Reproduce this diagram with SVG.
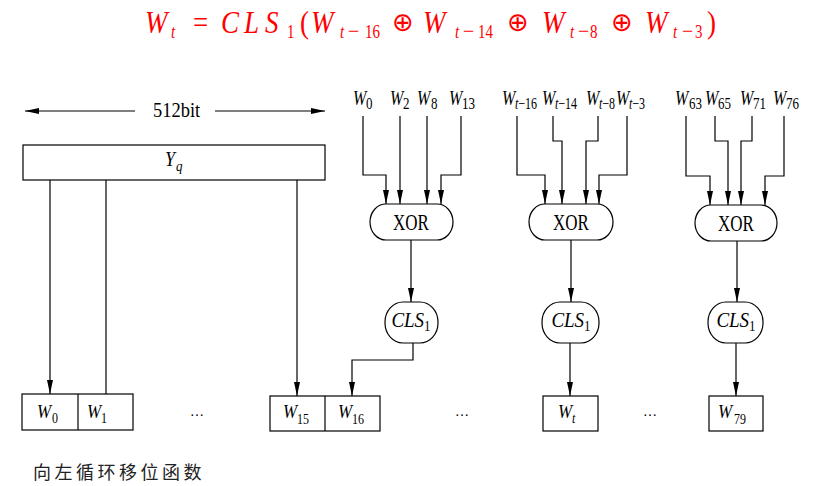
<svg xmlns="http://www.w3.org/2000/svg" width="832" height="486" viewBox="0 0 832 486">
<defs>
<marker id="ah" viewBox="0 0 14 6" refX="14" refY="3" markerWidth="14" markerHeight="6" markerUnits="userSpaceOnUse" orient="auto">
<path d="M0,0 L14,3 L0,6 z" fill="#000"/>
</marker>
<style>
.ln{stroke:#000;stroke-width:1.2;fill:none}
.arr{stroke:#000;stroke-width:1.2;fill:none;marker-end:url(#ah)}
.box{stroke:#000;stroke-width:1.2;fill:#fff}
.t{font-family:"Liberation Serif","Times New Roman",serif;fill:#000}
.it{font-style:italic}
.ttl{font-family:"Liberation Serif","Times New Roman",serif;fill:#f00;font-size:27px}
.mi{font-size:20px}
.op{font-family:"DejaVu Sans",sans-serif;fill:#f00;font-size:26px}
.lab{font-family:"Liberation Serif","Times New Roman",serif;font-size:16px;font-style:italic;fill:#000}
.sub{font-size:13px;font-style:normal}
.subt{font-size:12px;font-style:normal}
.subi{font-size:12px;font-style:italic}
.cn{font-family:"Noto Sans CJK SC",sans-serif;font-size:18px;letter-spacing:3.5px;fill:#222}
</style>
</defs>

<g id="title">
<text class="ttl" transform="translate(0,33) scale(1,1.2)"><tspan class="it" x="145" y="0">W</tspan><tspan class="it" x="171" y="4" font-size="15">t</tspan><tspan x="193" y="0">=</tspan><tspan class="it" x="221" y="0">C</tspan><tspan class="it" x="244" y="0">L</tspan><tspan class="it" x="265" y="0">S</tspan><tspan x="287" y="4" font-size="15">1</tspan><tspan x="300" y="0">(</tspan><tspan class="it" x="311" y="0">W</tspan><tspan class="it" x="340" y="4" font-size="15">t</tspan><tspan class="mi" x="348" y="5">−</tspan><tspan x="365" y="4" font-size="15">16</tspan><tspan class="it" x="423" y="0">W</tspan><tspan class="it" x="455" y="4" font-size="15">t</tspan><tspan class="mi" x="463" y="5">−</tspan><tspan x="478" y="4" font-size="15">14</tspan><tspan class="it" x="542" y="0">W</tspan><tspan class="it" x="570" y="4" font-size="15">t</tspan><tspan class="mi" x="578" y="5">−</tspan><tspan x="590" y="4" font-size="15">8</tspan><tspan class="it" x="645" y="0">W</tspan><tspan class="it" x="673" y="4" font-size="15">t</tspan><tspan class="mi" x="682" y="5">−</tspan><tspan x="695" y="4" font-size="15">3</tspan><tspan x="707" y="0">)</tspan></text>
<text class="op" y="31"><tspan x="392">⊕</tspan><tspan x="507">⊕</tspan><tspan x="611">⊕</tspan></text>
</g>

<g id="width-label">
<text class="t" font-size="18.5" transform="translate(153,117) scale(1,1.12)">512bit</text>
</g>

<g id="connectors">
<path class="arr" d="M135,111 H25"/>
<path class="arr" d="M215,111 H325"/>
<path class="arr" d="M50,180 V394"/>
<path class="ln" d="M106,180 V394"/>
<path class="arr" d="M297,180 V396"/>
<path class="arr" d="M363,116 V175 H386 V204"/>
<path class="arr" d="M400,116 V204"/>
<path class="arr" d="M427,116 V204"/>
<path class="arr" d="M461,116 V175 H441 V204"/>
<path class="arr" d="M411,240 V302"/>
<path class="arr" d="M413,343 V360 H352 V396"/>
<path class="arr" d="M517,116 V175 H545 V204"/>
<path class="arr" d="M553,116 V141 H562 V204"/>
<path class="arr" d="M598,116 V141 H586 V204"/>
<path class="arr" d="M627,116 V175 H599 V204"/>
<path class="arr" d="M571,240 V302"/>
<path class="arr" d="M570,343 V396"/>
<path class="arr" d="M686,116 V176 H710 V205"/>
<path class="arr" d="M715,116 V141 H728 V205"/>
<path class="arr" d="M752,116 V141 H741 V205"/>
<path class="arr" d="M784,116 V176 H765 V205"/>
<path class="arr" d="M737,241 V302"/>
<path class="arr" d="M736,343 V396"/>
</g>

<g id="input-labels">
<text class="lab" transform="translate(353,105) scale(1,1.35)">W<tspan class="sub" x="13" dy="3">0</tspan></text>
<text class="lab" transform="translate(390,105) scale(1,1.35)">W<tspan class="sub" x="13" dy="3">2</tspan></text>
<text class="lab" transform="translate(417,105) scale(1,1.35)">W<tspan class="sub" x="14" dy="3">8</tspan></text>
<text class="lab" transform="translate(449,105) scale(1,1.35)">W<tspan class="sub" x="13" dy="3">13</tspan></text>
<text class="lab" transform="translate(502,105) scale(1,1.35)">W<tspan class="subi" x="13" dy="3">t</tspan><tspan class="subt">−16</tspan></text>
<text class="lab" transform="translate(542,105) scale(1,1.35)">W<tspan class="subi" x="13" dy="3">t</tspan><tspan class="subt">−14</tspan></text>
<text class="lab" transform="translate(586,105) scale(1,1.35)">W<tspan class="subi" x="13" dy="3">t</tspan><tspan class="subt">−8</tspan></text>
<text class="lab" transform="translate(616,105) scale(1,1.35)">W<tspan class="subi" x="13" dy="3">t</tspan><tspan class="subt">−3</tspan></text>
<text class="lab" transform="translate(675,105) scale(1,1.35)">W<tspan class="sub" x="14" dy="3">63</tspan></text>
<text class="lab" transform="translate(705,105) scale(1,1.35)">W<tspan class="sub" x="13" dy="3">65</tspan></text>
<text class="lab" transform="translate(740,105) scale(1,1.35)">W<tspan class="sub" x="13" dy="3">71</tspan></text>
<text class="lab" transform="translate(773,105) scale(1,1.35)">W<tspan class="sub" x="13" dy="3">76</tspan></text>
</g>

<g id="Yq">
<rect class="box" x="23" y="145" width="302" height="35"/>
<text class="t it" font-size="18" transform="translate(165,166) scale(1,1.17)">Y<tspan font-size="13" dx="1" dy="4">q</tspan></text>
</g>

<g id="xor1">
<rect class="box" x="370" y="204" width="83" height="36" rx="16" ry="18"/>
<text class="t" font-size="17" text-anchor="middle" transform="translate(411,230) scale(1,1.3)">XOR</text>
</g>
<g id="xor2">
<rect class="box" x="529" y="204" width="84" height="36" rx="16" ry="18"/>
<text class="t" font-size="17" text-anchor="middle" transform="translate(571,230) scale(1,1.3)">XOR</text>
</g>
<g id="xor3">
<rect class="box" x="695" y="205" width="82" height="36" rx="16" ry="18"/>
<text class="t" font-size="17" text-anchor="middle" transform="translate(736,231) scale(1,1.3)">XOR</text>
</g>

<g id="cls1">
<rect class="box" x="385" y="302" width="53" height="41" rx="18" ry="20"/>
<text class="t it" font-size="19" text-anchor="middle" transform="translate(411,327) scale(1,1.05)">CLS<tspan font-size="13" font-style="normal" dy="4">1</tspan></text>
</g>
<g id="cls2">
<rect class="box" x="542" y="302" width="57" height="41" rx="18" ry="20"/>
<text class="t it" font-size="19" text-anchor="middle" transform="translate(571,327) scale(1,1.05)">CLS<tspan font-size="13" font-style="normal" dy="4">1</tspan></text>
</g>
<g id="cls3">
<rect class="box" x="708" y="302" width="55" height="41" rx="18" ry="20"/>
<text class="t it" font-size="19" text-anchor="middle" transform="translate(736,327) scale(1,1.05)">CLS<tspan font-size="13" font-style="normal" dy="4">1</tspan></text>
</g>

<g id="w0w1">
<rect class="box" x="22" y="394" width="111" height="36"/>
<path class="ln" d="M78,394 V430"/>
<text class="t it" font-size="17" transform="translate(37,418) scale(1,1.15)">W<tspan font-size="12" font-style="normal" x="15" dy="4">0</tspan></text>
<text class="t it" font-size="17" transform="translate(87,418) scale(1,1.15)">W<tspan font-size="12" font-style="normal" x="14" dy="4">1</tspan></text>
</g>

<g id="w15w16">
<rect class="box" x="270" y="396" width="110" height="35"/>
<path class="ln" d="M325,396 V431"/>
<text class="t it" font-size="17" transform="translate(283,418) scale(1,1.15)">W<tspan font-size="12" font-style="normal" x="14" dy="5">15</tspan></text>
<text class="t it" font-size="17" transform="translate(338,418) scale(1,1.15)">W<tspan font-size="12" font-style="normal" x="14" dy="5">16</tspan></text>
</g>

<g id="wt">
<rect class="box" x="543" y="396" width="55" height="35"/>
<text class="t it" font-size="17" transform="translate(558,418) scale(1,1.15)">W<tspan font-size="12" x="14" dy="4">t</tspan></text>
</g>

<g id="w79">
<rect class="box" x="709" y="396" width="54" height="35"/>
<text class="t it" font-size="17" transform="translate(718,418) scale(1,1.15)">W<tspan font-size="12" font-style="normal" x="16" dy="5">79</tspan></text>
</g>

<g id="ellipses">
<text class="t" font-size="14" text-anchor="middle" x="197" y="416">…</text>
<text class="t" font-size="14" text-anchor="middle" x="462" y="416">…</text>
<text class="t" font-size="14" text-anchor="middle" x="650" y="416">…</text>
</g>

<g id="caption">
<text class="cn" x="33" y="479">向左循环移位函数</text>
</g>
</svg>
